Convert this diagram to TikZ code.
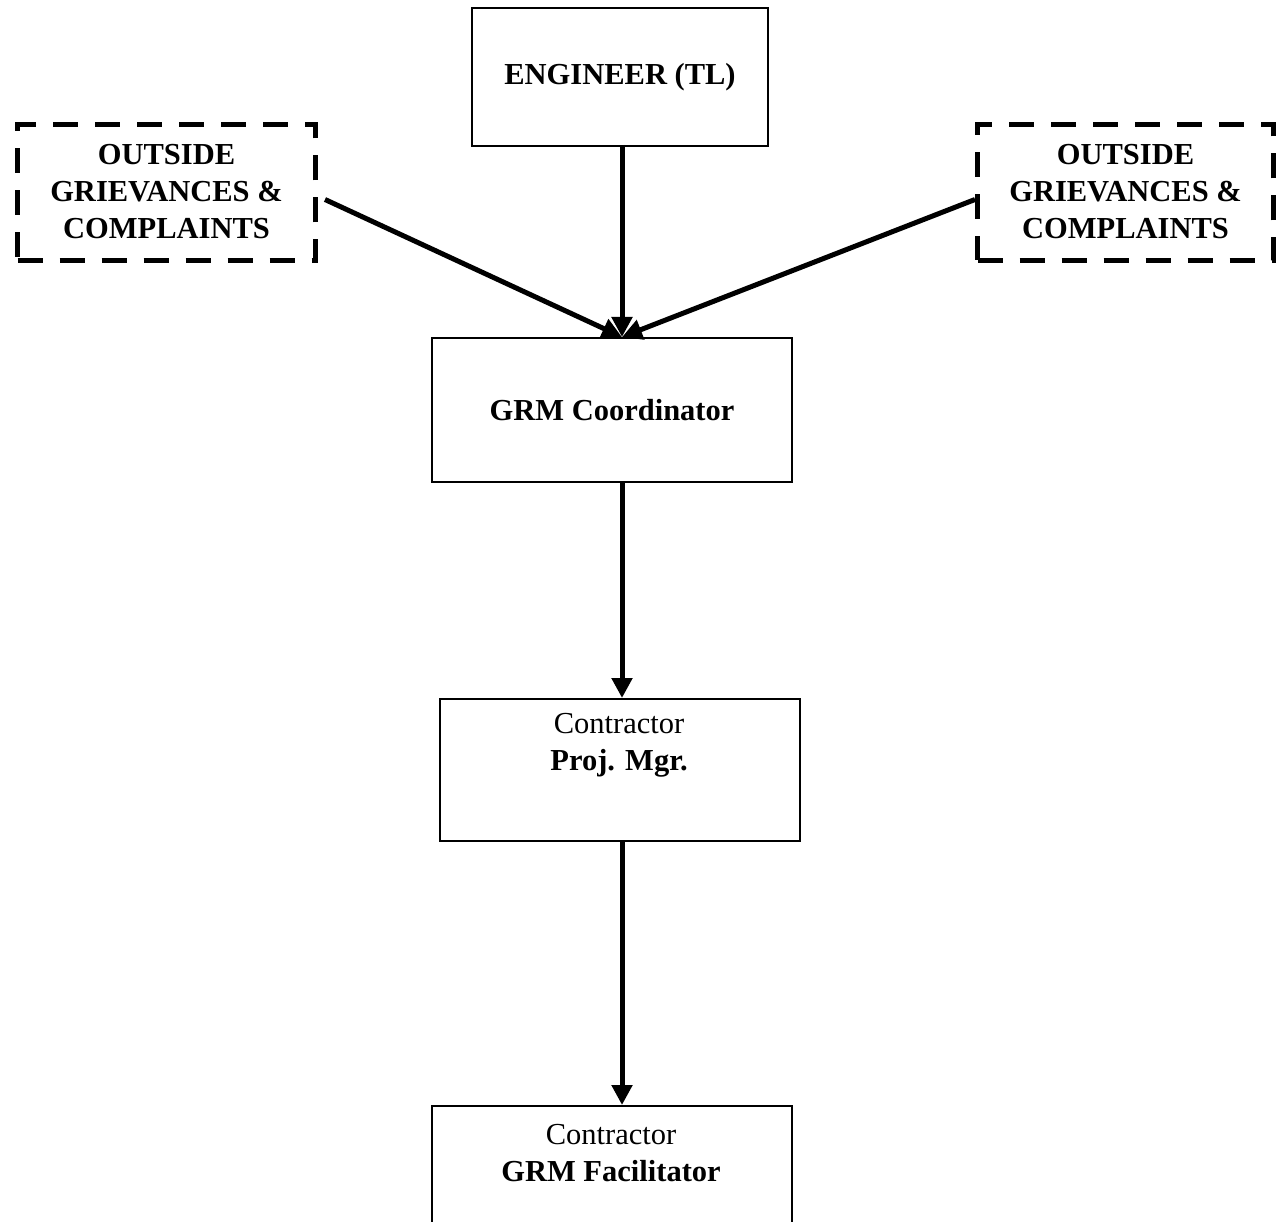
\documentclass[tikz,border=0pt]{standalone}
\usepackage{fontspec}
\setmainfont{Liberation Serif}
\usetikzlibrary{arrows.meta,calc}
\begin{document}
\begin{tikzpicture}[x=1pt,y=-1pt,
  box/.style={draw=black,line width=2pt,fill=none,inner sep=0pt,anchor=north west},
  dbox/.style={draw=black,line width=5pt,dash pattern=on 25pt off 17pt,inner sep=0pt,anchor=north west},
  txt/.style={font=\fontsize{30.5}{37}\selectfont,align=center,inner sep=0pt},
  arr/.style={line width=5pt,-{Triangle[length=20pt,width=20pt]}}]
\useasboundingbox (0,0) rectangle (1282,1222);
\clip (0,0) rectangle (1282,1222);
\fill[white] (0,0) rectangle (1282,1222);
% boxes
\node[box,minimum width=296pt,minimum height=138pt] (eng) at (471,7) {};
\node[txt] at (eng.center) {\textbf{ENGINEER (TL)}};
\node[dbox,minimum width=298pt,minimum height=136pt] (ol) at (15,122) {};
\node[txt] at ($(ol.center)+(0,-1)$) {\textbf{OUTSIDE}\\\textbf{GRIEVANCES \&}\\\textbf{COMPLAINTS}};
\node[dbox,minimum width=296pt,minimum height=136pt] (or) at (975,122) {};
\node[txt] at ($(or.center)+(0,-1)$) {\textbf{OUTSIDE}\\\textbf{GRIEVANCES \&}\\\textbf{COMPLAINTS}};
\node[box,minimum width=360pt,minimum height=144pt] (coord) at (431,337) {};
\node[txt] at (coord.center) {\textbf{GRM Coordinator}};
\node[box,minimum width=360pt,minimum height=142pt] (pm) at (439,698) {};
\node[txt] at (619,745) {Contractor\\\textbf{Proj. Mgr.}};
\node[box,minimum width=360pt,minimum height=160pt] (fac) at (431,1105) {};
\node[txt] at (611,1153) {Contractor\\\textbf{GRM Facilitator}};
% connectors
\coordinate (top) at (622,337);
\coordinate (ls) at ($(ol.east)+(7,7)$);
\coordinate (rs) at ($(or.west)+(0,7)$);
\draw[arr] (622,145) -- (top);
\draw[arr] (ls) -- (top);
\draw[arr] (rs) -- (top);
\draw[arr] (coord.south -| top) -- (pm.north -| top);
\draw[arr] (pm.south -| top) -- (fac.north -| top);
\end{tikzpicture}
\end{document}
